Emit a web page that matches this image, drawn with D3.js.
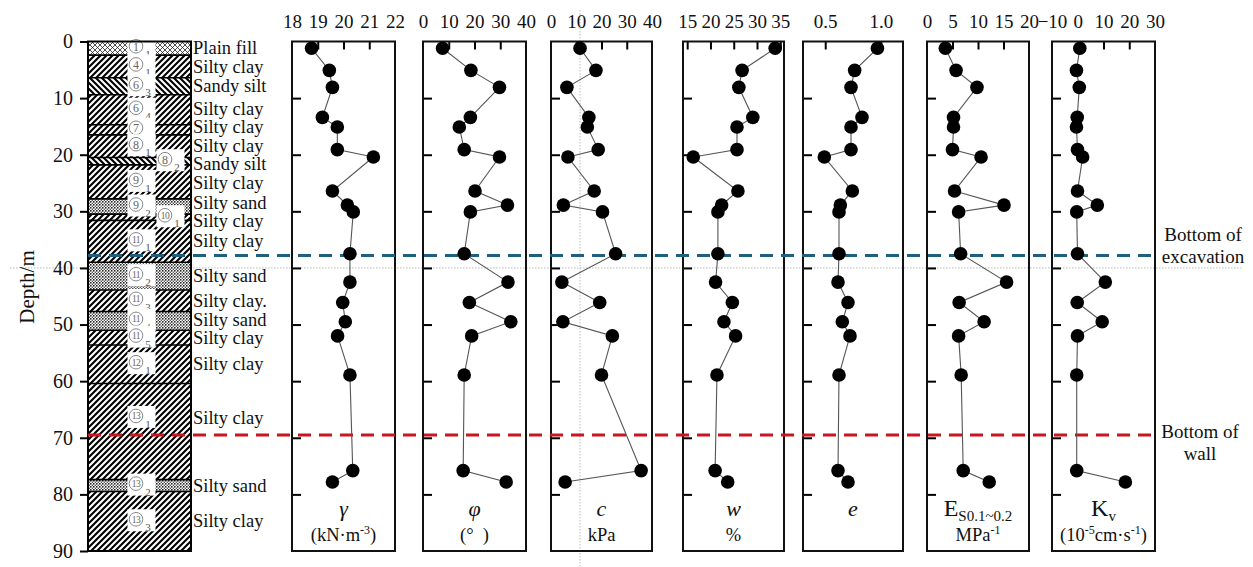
<!DOCTYPE html>
<html>
<head>
<meta charset="utf-8">
<script src="https://cdn.jsdelivr.net/npm/d3@7"></script>
<style>
  body { margin: 0; background: #fff; }
</style>
</head>
<body>
<div id="chart"></div>
<script>
// sample depths (m), shared by every property panel
const sampleDepth = [1.2, 5.1, 8.1, 13.4, 15.1, 19.1, 20.4, 26.4, 28.9, 30.1, 37.5, 42.5, 46.1, 49.5, 52.0, 58.9, 75.8, 77.8];

// soil properties
const gamma = [18.76, 19.45, 19.57, 19.18, 19.76, 19.76, 21.16, 19.57, 20.15, 20.38, 20.25, 20.25, 19.97, 20.07, 19.77, 20.25, 20.36, 19.57];
const phi = [7.6, 18.6, 29.7, 18.4, 14.1, 16.0, 29.7, 20.2, 32.8, 18.4, 16.0, 33.0, 18.0, 34.1, 18.9, 16.0, 15.6, 32.3];
const cohesion = [11.5, 17.8, 6.3, 15.0, 14.4, 18.7, 6.7, 17.1, 4.9, 20.4, 25.6, 4.3, 19.3, 4.7, 24.3, 20.0, 35.7, 5.6];
const water = [33.9, 26.8, 26.1, 29.1, 25.7, 25.7, 16.3, 25.9, 22.4, 21.6, 21.6, 21.1, 24.7, 22.9, 25.4, 21.4, 21.0, 23.7];
const voidRatio = [0.97, 0.765, 0.732, 0.831, 0.732, 0.732, 0.492, 0.744, 0.636, 0.624, 0.624, 0.615, 0.705, 0.654, 0.723, 0.624, 0.615, 0.705];
const modulus = [3.6, 5.7, 9.8, 5.2, 5.2, 5.0, 10.6, 5.4, 15.1, 6.2, 6.6, 15.6, 6.3, 11.2, 6.2, 6.7, 7.1, 12.2];
const kv = [0.8, -0.5, 0.6, -0.2, -0.5, -0.1, 1.9, -0.1, 7.6, -0.4, -0.1, 10.7, -0.2, 9.5, -0.1, -0.4, -0.4, 18.5];

// tick labels along the top of each panel
const gammaTicks = [18, 19, 20, 21, 22];
const phiTicks = [0, 10, 20, 30, 40];
const cTicks = [0, 10, 20, 30, 40];
const wTicks = [15, 20, 25, 30, 35];
const eTicks = [0.5, 1.0];
const esTicks = [0, 5, 10, 15, 20];
const kvTicks = [-10, 0, 10, 20, 30];
const depthTicks = [0, 10, 20, 30, 40, 50, 60, 70, 80, 90];

// soil column
const layerTop = [0, 2.4, 6.4, 9.4, 14.7, 16.5, 20.5, 21.8, 27.8, 30.5, 31.6, 39.0, 43.9, 47.7, 51.0, 53.6, 60.4, 77.4, 79.5];
const layerBottom = 90;
const layerNo = ['1', '4', '6', '6', '7', '8', '8', '9', '9', '10', '11', '11', '11', '11', '11', '12', '13', '13', '13'];
const layerSub = ['1', '1', '3', '4', '', '1', '2', '1', '2', '1', '1', '2', '3', '4', '5', '1', '1', '2', '3'];
const layerSoil = ['Plain fill', 'Silty clay', 'Sandy silt', 'Silty clay', 'Silty clay', 'Silty clay', 'Sandy silt', 'Silty clay', 'Silty sand', 'Silty clay',
    'Silty clay', 'Silty sand', 'Silty clay.', 'Silty sand', 'Silty clay', 'Silty clay', 'Silty clay', 'Silty sand', 'Silty clay'];

const excavationDepth = 37.8;
const wallDepth = 69.5;
const guideDepth = 40;
const guideC = 11.5;

const serif = '"Liberation Serif", "Times New Roman", serif';

const svg = d3.select('#chart')
    .append('svg')
    .attr('width', 1253)
    .attr('height', 567)
    .style('font-family', serif);

const y = d3.scaleLinear().domain([0, 90]).range([41.5, 551]);

// hatch patterns
const defs = svg.append('defs');
function pattern(id, size) {
    const p = defs.append('pattern').attr('id', id)
        .attr('patternUnits', 'userSpaceOnUse')
        .attr('width', size).attr('height', size);
    p.append('rect').attr('width', size).attr('height', size).attr('fill', '#fff');
    return p;
}
pattern('fwd', 6).append('path')
    .attr('d', 'M-1,1 l2,-2 M0,6 l6,-6 M5,7 l2,-2')
    .attr('stroke', '#000').attr('stroke-width', 2.1);
pattern('back', 6).append('path')
    .attr('d', 'M-1,5 l2,2 M0,0 l6,6 M5,-1 l2,2')
    .attr('stroke', '#000').attr('stroke-width', 2.1);
pattern('cross', 5).append('path')
    .attr('d', 'M0,0 l5,5 M5,0 l-5,5')
    .attr('stroke', '#222').attr('stroke-width', 0.8);
const dots = pattern('dots', 3);
dots.append('circle').attr('cx', 0.8).attr('cy', 0.8).attr('r', 0.85).attr('fill', '#111');
dots.append('circle').attr('cx', 2.3).attr('cy', 2.2).attr('r', 0.7).attr('fill', '#333');

const fillFor = { 'Plain fill': 'cross', 'Silty clay': 'fwd', 'Sandy silt': 'back', 'Silty sand': 'dots' };

// faint guide line
svg.append('line')
    .attr('x1', 10).attr('x2', 1243)
    .attr('y1', y(guideDepth)).attr('y2', y(guideDepth))
    .attr('stroke', '#bbb').attr('stroke-width', 1).attr('stroke-dasharray', '1.5,1.5');

const layers = layerTop.map((t, i) => ({
    top: t,
    bottom: i < layerTop.length - 1 ? layerTop[i + 1] : layerBottom,
    no: layerNo[i],
    sub: layerSub[i],
    soil: layerSoil[i]
}));

// label rows sit at the layer middle, kept off the dashed lines
const labelY = layers.map(d => {
    let v = y((d.top + d.bottom) / 2);
    [excavationDepth, wallDepth].forEach(dep => {
        if (Math.abs(v - y(dep)) < 9) v = y(dep) - 17;
    });
    return v;
});

// soil names pushed apart where layers are thin
const nameY = labelY.slice();
for (let k = 0; k < 20; k++) {
    for (let i = 1; i < nameY.length; i++) {
        const gap = nameY[i] - nameY[i - 1];
        if (gap < 18.5) {
            const push = (18.5 - gap) / 2;
            nameY[i - 1] -= push;
            nameY[i] += push;
        }
    }
}

const colX0 = 88, colX1 = 191;
const col = svg.append('g');

col.selectAll('rect.layer')
    .data(layers)
    .enter()
    .append('rect')
    .attr('class', 'layer')
    .attr('x', colX0)
    .attr('y', d => y(d.top))
    .attr('width', colX1 - colX0)
    .attr('height', d => y(d.bottom) - y(d.top))
    .attr('fill', d => 'url(#' + fillFor[d.soil.replace('.', '')] + ')');

col.selectAll('line.bound')
    .data(layers.slice(1))
    .enter()
    .append('line')
    .attr('class', 'bound')
    .attr('x1', colX0).attr('x2', colX1)
    .attr('y1', d => y(d.top)).attr('y2', d => y(d.top))
    .attr('stroke', '#000').attr('stroke-width', 1.6);

// layer numbers (circled) and soil names
layers.forEach((d, i) => {
    const thin = d.bottom - d.top < 1.5;
    const cx = thin ? 165 : 136;
    const cy = labelY[i] - 2;
    col.append('rect')
        .attr('x', cx - 8.5).attr('y', cy - 10)
        .attr('width', 28).attr('height', 22)
        .attr('fill', '#fff');
    col.append('circle')
        .attr('cx', cx).attr('cy', cy).attr('r', 6.8)
        .attr('fill', '#fff').attr('stroke', '#888').attr('stroke-width', 1);
    col.append('text')
        .attr('x', cx).attr('y', cy + 0.5)
        .attr('text-anchor', 'middle')
        .attr('dominant-baseline', 'central')
        .style('font-size', d.no.length > 1 ? '9.5px' : '12px')
        .style('letter-spacing', d.no.length > 1 ? '-0.5px' : null)
        .attr('fill', '#666')
        .text(d.no);
    if (d.sub) {
        col.append('text')
            .attr('x', cx + 12).attr('y', cy + 8)
            .attr('text-anchor', 'middle')
            .attr('dominant-baseline', 'central')
            .style('font-size', '11px')
            .attr('fill', '#555')
            .text(d.sub);
    }
    col.append('text')
        .attr('x', colX1 + 2).attr('y', nameY[i])
        .attr('dominant-baseline', 'central')
        .style('font-size', '18.5px')
        .attr('fill', '#111')
        .text(d.soil);
});

col.append('rect')
    .attr('x', colX0).attr('y', y(0))
    .attr('width', colX1 - colX0).attr('height', y(layerBottom) - y(0))
    .attr('fill', 'none').attr('stroke', '#000').attr('stroke-width', 2);

// depth axis
svg.append('g')
    .attr('transform', 'translate(' + colX0 + ',0)')
    .call(d3.axisLeft(y).tickValues(depthTicks).tickSize(8).tickPadding(7).tickSizeOuter(0))
    .attr('font-family', serif)
    .attr('font-size', 20)
    .call(g => g.select('.domain').remove())
    .call(g => g.selectAll('line').attr('stroke-width', 2))
    .call(g => g.selectAll('text').attr('fill', '#111'));

svg.append('text')
    .attr('transform', 'translate(27,' + 287 + ') rotate(-90)')
    .attr('text-anchor', 'middle')
    .attr('dominant-baseline', 'central')
    .style('font-size', '21px')
    .attr('fill', '#111')
    .text('Depth/m');

// property panels
const panels = [
    { values: gamma, domain: [18, 22], ticks: gammaTicks, fmt: d3.format('d'), x0: 292, x1: 395,
        sym: [['γ', 'i']], unit: [['(kN·m', 'n'], ['-3', 'sup'], [')', 'n']] },
    { values: phi, domain: [0, 40], ticks: phiTicks, fmt: d3.format('d'), x0: 423, x1: 526,
        sym: [['φ', 'i']], unit: [['(°\u00a0\u00a0)', 'n']] },
    { values: cohesion, domain: [0, 40], ticks: cTicks, fmt: d3.format('d'), x0: 551, x1: 652, guide: guideC,
        sym: [['c', 'i']], unit: [['kPa', 'n']] },
    { values: water, domain: [14.1, 35.8], ticks: wTicks, fmt: d3.format('d'), x0: 683, x1: 784,
        sym: [['w', 'i']], unit: [['%', 'n']] },
    { values: voidRatio, domain: [0.3, 1.2], ticks: eTicks, fmt: d3.format('.1f'), x0: 803, x1: 903,
        sym: [['e', 'i']], unit: [] },
    { values: modulus, domain: [0, 20], ticks: esTicks, fmt: d3.format('d'), x0: 927, x1: 1029,
        sym: [['E', 'big'], ['S0.1~0.2', 'sub']], unit: [['MPa', 'n'], ['-1', 'sup']] },
    { values: kv, domain: [-10, 30], ticks: kvTicks, fmt: d3.format('d'), x0: 1052, x1: 1155,
        sym: [['K', 'big'], ['v', 'sub']], unit: [['(10', 'n'], ['-5', 'sup'], ['cm·s', 'n'], ['-1', 'sup'], [')', 'n']] }
];

function richText(sel, parts, size) {
    let shift = 0;
    parts.forEach(p => {
        const t = sel.append('tspan').text(p[0]);
        let want = 0;
        if (p[1] === 'i') t.style('font-style', 'italic').style('font-size', (size + 3) + 'px');
        else if (p[1] === 'big') t.style('font-size', (size + 5) + 'px');
        else if (p[1] === 'sup') { t.style('font-size', '12px'); want = -7; }
        else if (p[1] === 'sub') { t.style('font-size', '15px'); want = 5; }
        else t.style('font-size', size + 'px');
        t.attr('dy', want - shift);
        shift = want;
    });
}

const panelG = svg.append('g');
const dashG = svg.append('g');
const markG = svg.append('g');

panels.forEach(p => {
    const x = d3.scaleLinear().domain(p.domain).range([p.x0, p.x1]);
    const g = panelG.append('g');

    if (p.guide !== undefined) {
        g.append('line')
            .attr('x1', x(p.guide)).attr('x2', x(p.guide))
            .attr('y1', 10).attr('y2', 567)
            .attr('stroke', '#bbb').attr('stroke-width', 1).attr('stroke-dasharray', '1.5,1.5');
    }

    // top tick labels
    g.append('g')
        .attr('transform', 'translate(0,' + y(0) + ')')
        .call(d3.axisTop(x).tickValues(p.ticks).tickFormat(p.fmt).tickSize(0).tickPadding(14))
        .attr('font-family', serif)
        .attr('font-size', 19)
        .call(a => a.select('.domain').remove())
        .call(a => a.selectAll('text').attr('fill', '#111'));

    // inner ticks on top
    const inner = p.ticks.filter(t => t > p.domain[0] && t < p.domain[1]);
    g.append('g')
        .attr('transform', 'translate(0,' + y(0) + ')')
        .call(d3.axisTop(x).tickValues(inner).tickSize(-8).tickFormat(''))
        .call(a => a.select('.domain').remove())
        .call(a => a.selectAll('line').attr('stroke-width', 2));

    // inner depth ticks on the left
    g.append('g')
        .attr('transform', 'translate(' + p.x0 + ',0)')
        .call(d3.axisLeft(y).tickValues(depthTicks.slice(1, -1)).tickSize(-9).tickFormat(''))
        .call(a => a.select('.domain').remove())
        .call(a => a.selectAll('line').attr('stroke-width', 2));

    g.append('rect')
        .attr('x', p.x0).attr('y', y(0))
        .attr('width', p.x1 - p.x0).attr('height', y(90) - y(0))
        .attr('fill', 'none').attr('stroke', '#111').attr('stroke-width', 2);

    const cx = (p.x0 + p.x1) / 2;
    richText(g.append('text').attr('x', cx).attr('y', 516).attr('text-anchor', 'middle').attr('fill', '#111'), p.sym, 19);
    if (p.unit.length) {
        richText(g.append('text').attr('x', cx).attr('y', 541).attr('text-anchor', 'middle').attr('fill', '#111'), p.unit, 18.5);
    }

    const line = d3.line()
        .x(d => x(d.v))
        .y(d => y(d.depth));
    const pts = p.values.map((v, i) => ({ v: v, depth: sampleDepth[i] }));

    markG.append('path')
        .datum(pts)
        .attr('d', line)
        .attr('fill', 'none')
        .attr('stroke', '#555')
        .attr('stroke-width', 1.1);

    markG.selectAll(null)
        .data(pts)
        .enter()
        .append('circle')
        .attr('cx', d => x(d.v))
        .attr('cy', d => y(d.depth))
        .attr('r', 6.8)
        .attr('fill', '#000');
});

// excavation and wall bottoms
[[excavationDepth, '#1f607f'], [wallDepth, '#c8171e']].forEach(d => {
    dashG.append('line')
        .attr('x1', colX0).attr('x2', 1156)
        .attr('y1', y(d[0])).attr('y2', y(d[0]))
        .attr('stroke', d[1]).attr('stroke-width', 3)
        .attr('stroke-dasharray', '13,8');
});

const note = svg.append('g')
    .attr('font-size', 19)
    .attr('fill', '#111')
    .attr('text-anchor', 'middle');
note.append('text').attr('x', 1203).attr('y', y(excavationDepth) - 14).text('Bottom of');
note.append('text').attr('x', 1203).attr('y', y(excavationDepth) + 8).text('excavation');
note.append('text').attr('x', 1200).attr('y', y(wallDepth) + 3).text('Bottom of');
note.append('text').attr('x', 1200).attr('y', y(wallDepth) + 25).text('wall');
</script>
</body>
</html>
